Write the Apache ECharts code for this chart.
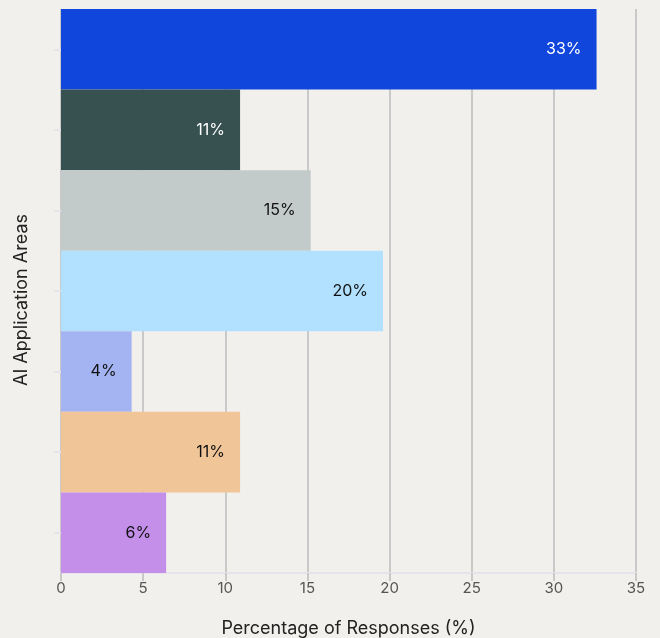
<!DOCTYPE html>
<html>
<head>
<meta charset="utf-8">
<script src="https://cdn.jsdelivr.net/npm/echarts@6/dist/echarts.min.js"></script>
<style>
  html, body { margin: 0; padding: 0; background: #f2f0ec; }
  #chart { width: 660px; height: 638px; }
</style>
</head>
<body>
<div id="chart"></div>
<script>
// Application areas (labels hidden on the axis), top to bottom
const categories = ['Area 1', 'Area 2', 'Area 3', 'Area 4', 'Area 5', 'Area 6', 'Area 7'];
// Share of responses per area, in percent
const values = [32.6, 10.9, 15.2, 19.6, 4.3, 10.9, 6.4];
const barColors = ['#1046dc', '#375150', '#c2cbc9', '#b1e1fe', '#a4b4f2', '#f0c698', '#c38fe9'];
const labelColors = ['#ffffff', '#ffffff', '#111111', '#111111', '#111111', '#111111', '#111111'];
const xTicks = [0, 5, 10, 15, 20, 25, 30, 35];

const FONT = 'Inter, "Noto Sans", sans-serif';
const chart = echarts.init(document.getElementById('chart'));

chart.setOption({
  backgroundColor: '#f2f0ec',
  animation: false,
  grid: { left: 61, right: 24, top: 9, bottom: 65, containLabel: false, outerBoundsMode: 'none' },
  xAxis: {
    type: 'value',
    min: xTicks[0],
    max: xTicks[xTicks.length - 1],
    interval: xTicks[1] - xTicks[0],
    name: 'Percentage of Responses (%)',
    nameLocation: 'middle',
    nameGap: 47,
    nameTextStyle: { fontFamily: FONT, fontSize: 18, color: '#222222' },
    axisLine: { show: true, lineStyle: { color: '#e6e4ea', width: 2 } },
    axisTick: { show: true, length: 8, lineStyle: { color: '#c9c9c9', width: 2 } },
    axisLabel: { fontFamily: FONT, fontSize: 15, color: '#555555', margin: 8 },
    splitLine: { show: true, lineStyle: { color: '#c9c9c9', width: 2 } }
  },
  yAxis: {
    type: 'category',
    data: categories,
    inverse: true,
    name: 'AI Application Areas',
    nameLocation: 'middle',
    nameGap: 30,
    nameTextStyle: { fontFamily: FONT, fontSize: 18, color: '#222222', padding: [0, 18, 0, 0] },
    axisLine: { show: false },
    axisTick: { show: true, alignWithLabel: true, length: 7, lineStyle: { color: '#e6e4ea', width: 2 } },
    axisLabel: { show: false },
    splitLine: { show: false }
  },
  series: [{
    type: 'bar',
    barCategoryGap: 0,
    data: values.map((v, i) => ({
      value: v,
      itemStyle: { color: barColors[i] },
      label: { color: labelColors[i] }
    })),
    label: {
      show: true,
      position: 'insideRight',
      distance: 15,
      fontFamily: FONT,
      fontSize: 16,
      formatter: p => Math.round(p.value) + '%'
    }
  }]
});
</script>
</body>
</html>
